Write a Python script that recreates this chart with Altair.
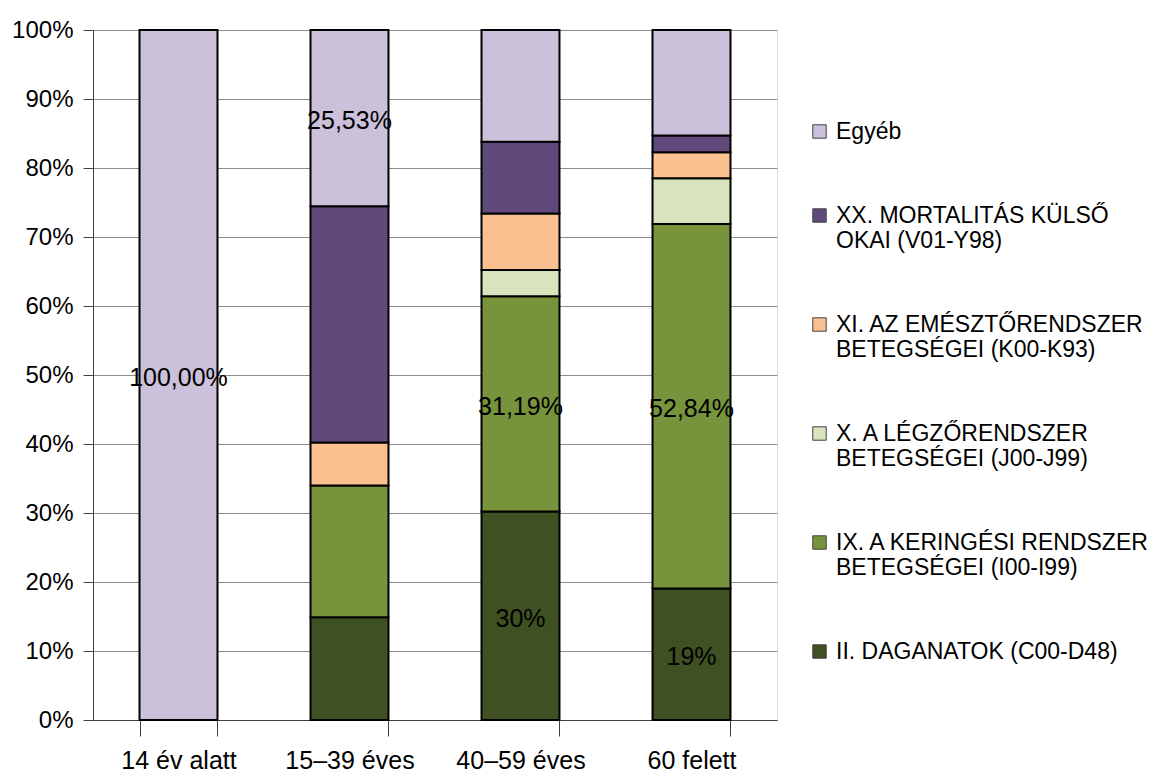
import altair as alt
import pandas as pd

ages = ["14 év alatt", "15–39 éves", "40–59 éves", "60 felett"]
series = [
    "II. DAGANATOK (C00-D48)",
    "IX. A KERINGÉSI RENDSZER\nBETEGSÉGEI (I00-I99)",
    "X. A LÉGZŐRENDSZER\nBETEGSÉGEI (J00-J99)",
    "XI. AZ EMÉSZTŐRENDSZER\nBETEGSÉGEI (K00-K93)",
    "XX. MORTALITÁS KÜLSŐ\nOKAI (V01-Y98)",
    "Egyéb",
]
colors = ["#3F5022", "#77933C", "#D7E4BD", "#FAC090", "#604A7B", "#CCC1DA"]

daganatok = [0, 14.9, 30.21, 19.06]
keringesi = [0, 19.1, 31.19, 52.84]
legzo = [0, 0, 3.8, 6.6]
emeszto = [0, 6.2, 8.2, 3.8]
kulso = [0, 34.27, 10.4, 2.4]
egyeb = [100, 25.53, 16.2, 15.3]
values = [daganatok, keringesi, legzo, emeszto, kulso, egyeb]

# label text per age group, per series (bottom -> top)
bar_labels = [
    ["", "", "", "", "", "100,00%"],
    ["", "", "", "", "", "25,53%"],
    ["30%", "31,19%", "", "", "", ""],
    ["19%", "52,84%", "", "", "", ""],
]

rows = []
for ai, age in enumerate(ages):
    for si, s in enumerate(series):
        rows.append({"age": age, "series": s, "idx": si,
                     "value": values[si][ai], "label": bar_labels[ai][si]})
df = pd.DataFrame(rows)

FONT = "Liberation Sans, Arial, sans-serif"

base = alt.Chart(df).transform_stack(
    stack="value", groupby=["age"], as_=["v0", "v1"],
    sort=[alt.SortField("idx", order="ascending")],
).transform_calculate(mid="(datum.v0 + datum.v1) / 2")

xenc = alt.X(
    "age:N", sort=ages, title=None,
    scale=alt.Scale(paddingInner=0.544, paddingOuter=0.272),
    axis=alt.Axis(labelAngle=0, labelFont=FONT, labelFontSize=25, labelColor="black",
                  labelPadding=12, tickBand="extent", tickSize=16, tickColor="#404040",
                  domainColor="#404040", grid=False),
)

bars = base.transform_filter("datum.value > 0").mark_bar(
    stroke="black", strokeWidth=2, opacity=1
).encode(
    x=xenc,
    y=alt.Y("v0:Q", title=None, scale=alt.Scale(domain=[0, 100], nice=False),
            axis=alt.Axis(values=list(range(0, 101, 10)), labelExpr="datum.value + '%'",
                          labelFont=FONT, labelFontSize=24, labelColor="black",
                          labelPadding=10, tickSize=10, tickColor="#404040",
                          domainColor="#404040", gridColor="#8c8c8c")),
    y2="v1:Q",
    color=alt.Color(
        "series:N",
        scale=alt.Scale(domain=series[::-1], range=colors[::-1]),
        legend=alt.Legend(
            title=None, orient="none", legendX=715, legendY=90,
            symbolType="square", symbolSize=180, symbolStrokeColor="#404040",
            symbolStrokeWidth=1, labelFont=FONT, labelFontSize=23, labelColor="black",
            labelLimit=0, labelOffset=5, rowPadding=60,
            labelExpr="split(datum.label, '\\n')",
        ),
    ),
)

texts = base.transform_filter("datum.label != ''").mark_text(
    font=FONT, fontSize=25, color="black", baseline="middle", dy=3
).encode(
    x=alt.X("age:N", sort=ages),
    y=alt.Y("mid:Q"),
    text="label:N",
)

chart = alt.layer(bars, texts).properties(
    width=684, height=690,
    autosize=alt.AutoSizeParams(type="none"),
    padding={"left": 85, "top": 22, "right": 370, "bottom": 54},
).configure_view(stroke="#8c8c8c", strokeWidth=1).configure(background="white")

chart.save("out.html", embed_options={"renderer": "svg", "actions": False})
